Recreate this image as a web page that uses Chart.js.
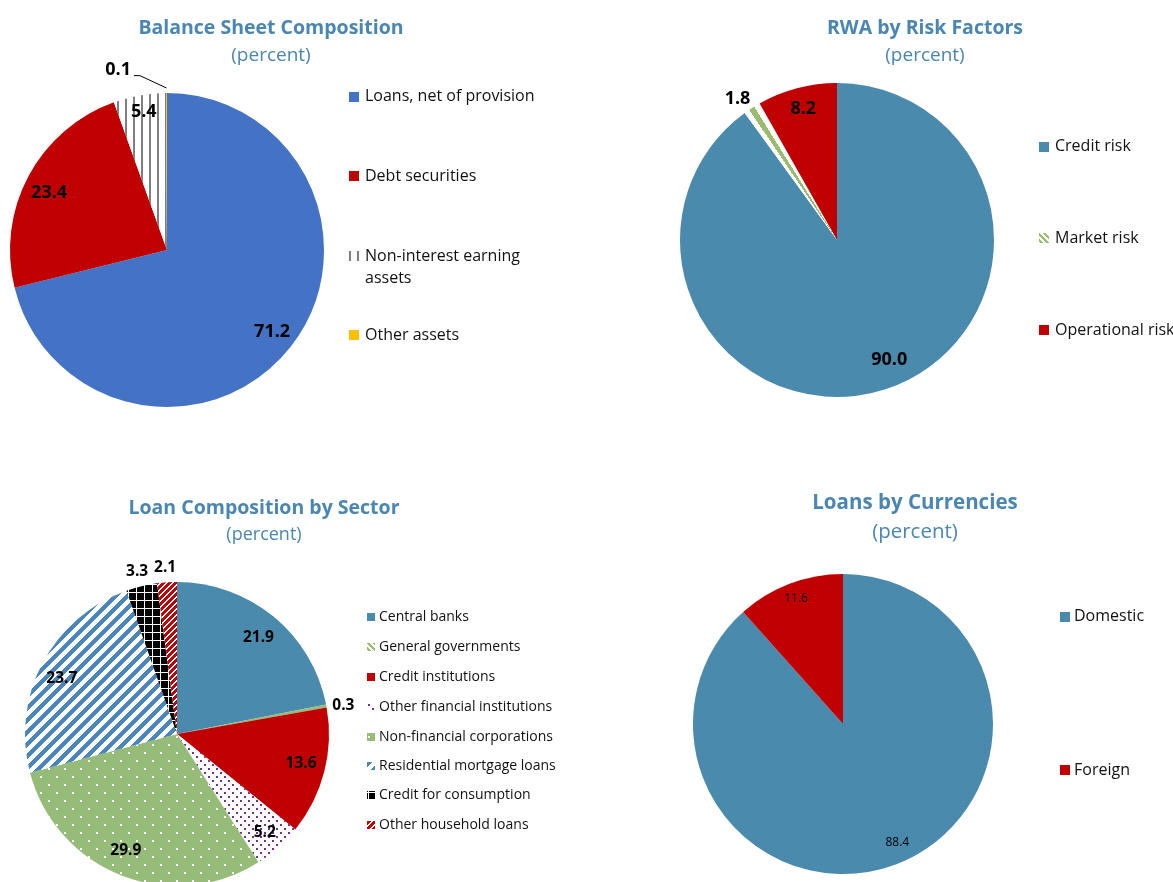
<!DOCTYPE html>
<html>
<head>
<meta charset="utf-8">
<title>Banking sector composition</title>
<script src="https://cdn.jsdelivr.net/npm/chart.js@4.4.1/dist/chart.umd.min.js"></script>
<style>
  html, body { margin: 0; padding: 0; background: #ffffff; }
  #page { position: relative; width: 1173px; height: 882px; overflow: hidden; font-family: 'Open Sans', 'Noto Sans', sans-serif; }
  #page canvas { position: absolute; left: 0; top: 0; }
  .ttl, .sub { position: absolute; transform: translate(-50%, -50%); line-height: 1; white-space: nowrap; color: #4a86b2; }
  .ttl { font-weight: 700; }
  .sub { font-weight: 400; }
</style>
</head>
<body>
<div id="page">
  <canvas id="balanceChart" width="1173" height="882"></canvas>
  <canvas id="rwaChart" width="1173" height="882"></canvas>
  <canvas id="sectorChart" width="1173" height="882"></canvas>
  <canvas id="currencyChart" width="1173" height="882"></canvas>

  <div class="ttl" style="left:271px; top:27px; font-size:19.5px;">Balance Sheet Composition</div>
  <div class="sub" style="left:271px; top:53.5px; font-size:19px;">(percent)</div>

  <div class="ttl" style="left:925px; top:27px; font-size:19.5px;">RWA by Risk Factors</div>
  <div class="sub" style="left:925px; top:53.5px; font-size:19px;">(percent)</div>

  <div class="ttl" style="left:264px; top:506.7px; font-size:19.5px;">Loan Composition by Sector</div>
  <div class="sub" style="left:264px; top:533.3px; font-size:18px;">(percent)</div>

  <div class="ttl" style="left:915px; top:500.7px; font-size:20.5px;">Loans by Currencies</div>
  <div class="sub" style="left:915px; top:530px; font-size:20.5px;">(percent)</div>
</div>
<script>
// ---- data ----
const balanceLabels = ['Loans, net of provision', 'Debt securities', ['Non-interest earning', 'assets'], 'Other assets'];
const balanceValues = [71.2, 23.4, 5.4, 0.1];

const rwaLabels = ['Credit risk', 'Market risk', 'Operational risk'];
const rwaValues = [90.0, 1.8, 8.2];

const sectorLabels = ['Central banks', 'General governments', 'Credit institutions', 'Other financial institutions',
  'Non-financial corporations', 'Residential mortgage loans', 'Credit for consumption', 'Other household loans'];
const sectorValues = [21.9, 0.3, 13.6, 5.2, 29.9, 23.7, 3.3, 2.1];

const currencyLabels = ['Domestic', 'Foreign'];
const currencyValues = [88.4, 11.6];

// ---- look ----
const W = 1173, H = 882;
const FONT = "'Open Sans', 'Noto Sans', sans-serif";
const scratch = document.createElement('canvas').getContext('2d');

// pixel tile -> repeating pattern
function tile(w, h, bg, fg, test) {
  const c = document.createElement('canvas');
  c.width = w; c.height = h;
  const g = c.getContext('2d');
  g.fillStyle = bg; g.fillRect(0, 0, w, h);
  g.fillStyle = fg;
  for (let y = 0; y < h; y++) for (let x = 0; x < w; x++) if (test(x, y)) g.fillRect(x, y, 1, 1);
  return g.createPattern(c, 'repeat');
}

const steel = tile(8, 8, '#4a8aad', '#4780ab', (x, y) => (x === 0 && y === 0) || (x === 4 && y === 4));
const grayBars = tile(8, 1, '#ffffff', '#7f7f7f', (x) => x === 5 || x === 6);
const blueStripes = tile(12, 12, '#ffffff', '#4a86bb', (x, y) => (x + y) % 12 < 6);
const redStripes = tile(6, 6, '#ffffff', '#c00000', (x, y) => (x + y) % 6 < 4);
const blackGrid = tile(8, 8, '#000000', '#ffffff', (x, y) => x === 0 || y === 0);
const purpleDots = tile(8, 8, '#ffffff', '#7030a0', (x, y) => (x < 2 && y < 2) || (x >= 4 && x < 6 && y >= 4 && y < 6));
const greenDots = tile(16, 16, '#95bc79', '#ffffff', (x, y) => (x < 2 && y < 2) || (x >= 8 && x < 10 && y >= 8 && y < 10));
const greenHatch = tile(6, 6, '#ffffff', '#9bbb6e', (x, y) => (x - y + 6) % 6 < 3);

// a green ray running down the middle of one slice (white on both sides)
function rayFill(values, index, cx, cy, color) {
  const total = values.reduce((s, v) => s + v, 0);
  const before = values.slice(0, index).reduce((s, v) => s + v, 0);
  const a0 = before / total, a1 = (before + values[index]) / total;
  const span = a1 - a0;
  const r0 = a0 + span * 0.31, r1 = a0 + span * 0.64;
  // conic gradient counted from 12 o'clock, like the pie itself
  const g = scratch.createConicGradient(-Math.PI / 2, cx, cy);
  g.addColorStop(0, '#ffffff');
  g.addColorStop(r0, '#ffffff');
  g.addColorStop(r0 + 0.00001, color);
  g.addColorStop(r1, color);
  g.addColorStop(r1 + 0.00001, '#ffffff');
  g.addColorStop(1, '#ffffff');
  return g;
}

// ---- plugins ----
const sideLegend = {
  id: 'sideLegend',
  afterDraw(chart, args, o) {
    const ctx = chart.ctx;
    const fills = chart.data.datasets[0].backgroundColor;
    const swatches = o.swatches || [];
    ctx.save();
    chart.data.labels.forEach((label, i) => {
      const lines = Array.isArray(label) ? label : [label];
      const y = o.rows[i];
      ctx.fillStyle = swatches[i] || fills[i];
      ctx.fillRect(o.x, Math.round(y - o.box / 2), o.box, o.box);
      ctx.fillStyle = '#111111';
      ctx.font = `400 ${o.size}px ${FONT}`;
      ctx.textAlign = 'left';
      ctx.textBaseline = 'middle';
      lines.forEach((ln, k) => ctx.fillText(ln, o.textX, y + k * o.lineHeight));
    });
    ctx.restore();
  }
};

const sliceLabels = {
  id: 'sliceLabels',
  afterDatasetsDraw(chart, args, o) {
    const ctx = chart.ctx;
    const values = chart.data.datasets[0].data;
    const arcs = chart.getDatasetMeta(0).data;
    ctx.save();
    ctx.font = `${o.weight} ${o.size}px ${FONT}`;
    ctx.fillStyle = '#000000';
    ctx.textAlign = 'center';
    ctx.textBaseline = 'middle';
    arcs.forEach((arc, i) => {
      const p = arc.getProps(['x', 'y', 'startAngle', 'endAngle', 'outerRadius'], true);
      const mid = (p.startAngle + p.endAngle) / 2;
      const a = mid + (o.shift[i] || 0) * Math.PI / 180;
      const r = p.outerRadius * o.dist[i];
      const lx = p.x + Math.cos(a) * r;
      const ly = p.y + Math.sin(a) * r;
      const txt = values[i].toFixed(1);
      ctx.fillText(txt, lx, ly);
      if (o.leader === i) {
        const tw = ctx.measureText(txt).width;
        const ex = p.x + Math.cos(mid) * (p.outerRadius + 5);
        const ey = p.y + Math.sin(mid) * (p.outerRadius + 5);
        const by = ly + o.size * 0.33;
        ctx.strokeStyle = '#000000';
        ctx.lineWidth = 1;
        ctx.beginPath();
        ctx.moveTo(ex, ey);
        ctx.lineTo(lx + tw / 2 + 9, by);
        ctx.lineTo(lx + tw / 2 + 3, by);
        ctx.stroke();
      }
    });
    ctx.restore();
  }
};

function pie(id, labels, values, fills, cfg) {
  return new Chart(document.getElementById(id), {
    type: 'pie',
    data: {
      labels: labels,
      datasets: [{
        data: values,
        backgroundColor: fills,
        borderWidth: 0,
        clip: false
      }]
    },
    options: {
      responsive: false,
      animation: false,
      events: [],
      radius: cfg.r,
      layout: { padding: { left: cfg.cx - 40, right: W - cfg.cx - 40, top: cfg.cy - 40, bottom: H - cfg.cy - 40 } },
      plugins: {
        legend: { display: false },
        tooltip: { enabled: false },
        title: { display: false },
        sideLegend: cfg.legend,
        sliceLabels: cfg.labels
      }
    },
    plugins: [sideLegend, sliceLabels]
  });
}

// Balance sheet
pie('balanceChart', balanceLabels, balanceValues, ['#4472c4', '#c00000', grayBars, '#ffc000'], {
  cx: 167, cy: 250, r: 157,
  legend: { x: 349, box: 10, textX: 365, rows: [96.5, 176, 256, 335], lineHeight: 22.5, size: 16 },
  labels: { weight: 700, size: 18, dist: [0.85, 0.835, 0.89, 1.19], shift: [0, -2.2, 0.5, -15], leader: 3 }
});

// Risk-weighted assets
const rwaCenter = { cx: 837, cy: 240 };
pie('rwaChart', rwaLabels, rwaValues, [steel, rayFill(rwaValues, 1, rwaCenter.cx, rwaCenter.cy, '#9bbb6e'), '#c00000'], {
  cx: rwaCenter.cx, cy: rwaCenter.cy, r: 157,
  legend: { x: 1039, box: 10, textX: 1055, rows: [146.5, 238, 330], lineHeight: 22, size: 16, swatches: [null, greenHatch, null] },
  labels: { weight: 700, size: 18, dist: [0.83, 1.1, 0.86], shift: [-5.6, -2.4, 0.3], leader: -1 }
});

// Loans by sector
pie('sectorChart', sectorLabels, sectorValues,
  [steel, '#95bc79', '#c00000', purpleDots, greenDots, blueStripes, blackGrid, redStripes], {
  cx: 177, cy: 734, r: 152,
  legend: { x: 367, box: 8, textX: 379, rows: [616.7, 646.7, 676.7, 706.7, 736.7, 765.7, 795.3, 824.7], lineHeight: 18, size: 14,
            swatches: [null, greenHatch, null, null, null, null, null, null] },
  labels: { weight: 700, size: 15.5, dist: [0.83, 1.11, 0.84, 0.87, 0.84, 0.84, 1.1, 1.095], shift: [0.8, 1, -0.8, 0.2, 2.2, -2.3, -0.3, -0.3], leader: -1 }
});

// Loans by currency
pie('currencyChart', currencyLabels, currencyValues, [steel, '#c00000'], {
  cx: 843, cy: 724, r: 150,
  legend: { x: 1060, box: 10, textX: 1074, rows: [616.7, 770], lineHeight: 22, size: 16 },
  labels: { weight: 400, size: 12, dist: [0.87, 0.89], shift: [-3.7, 0.3], leader: -1 }
});
</script>
</body>
</html>
